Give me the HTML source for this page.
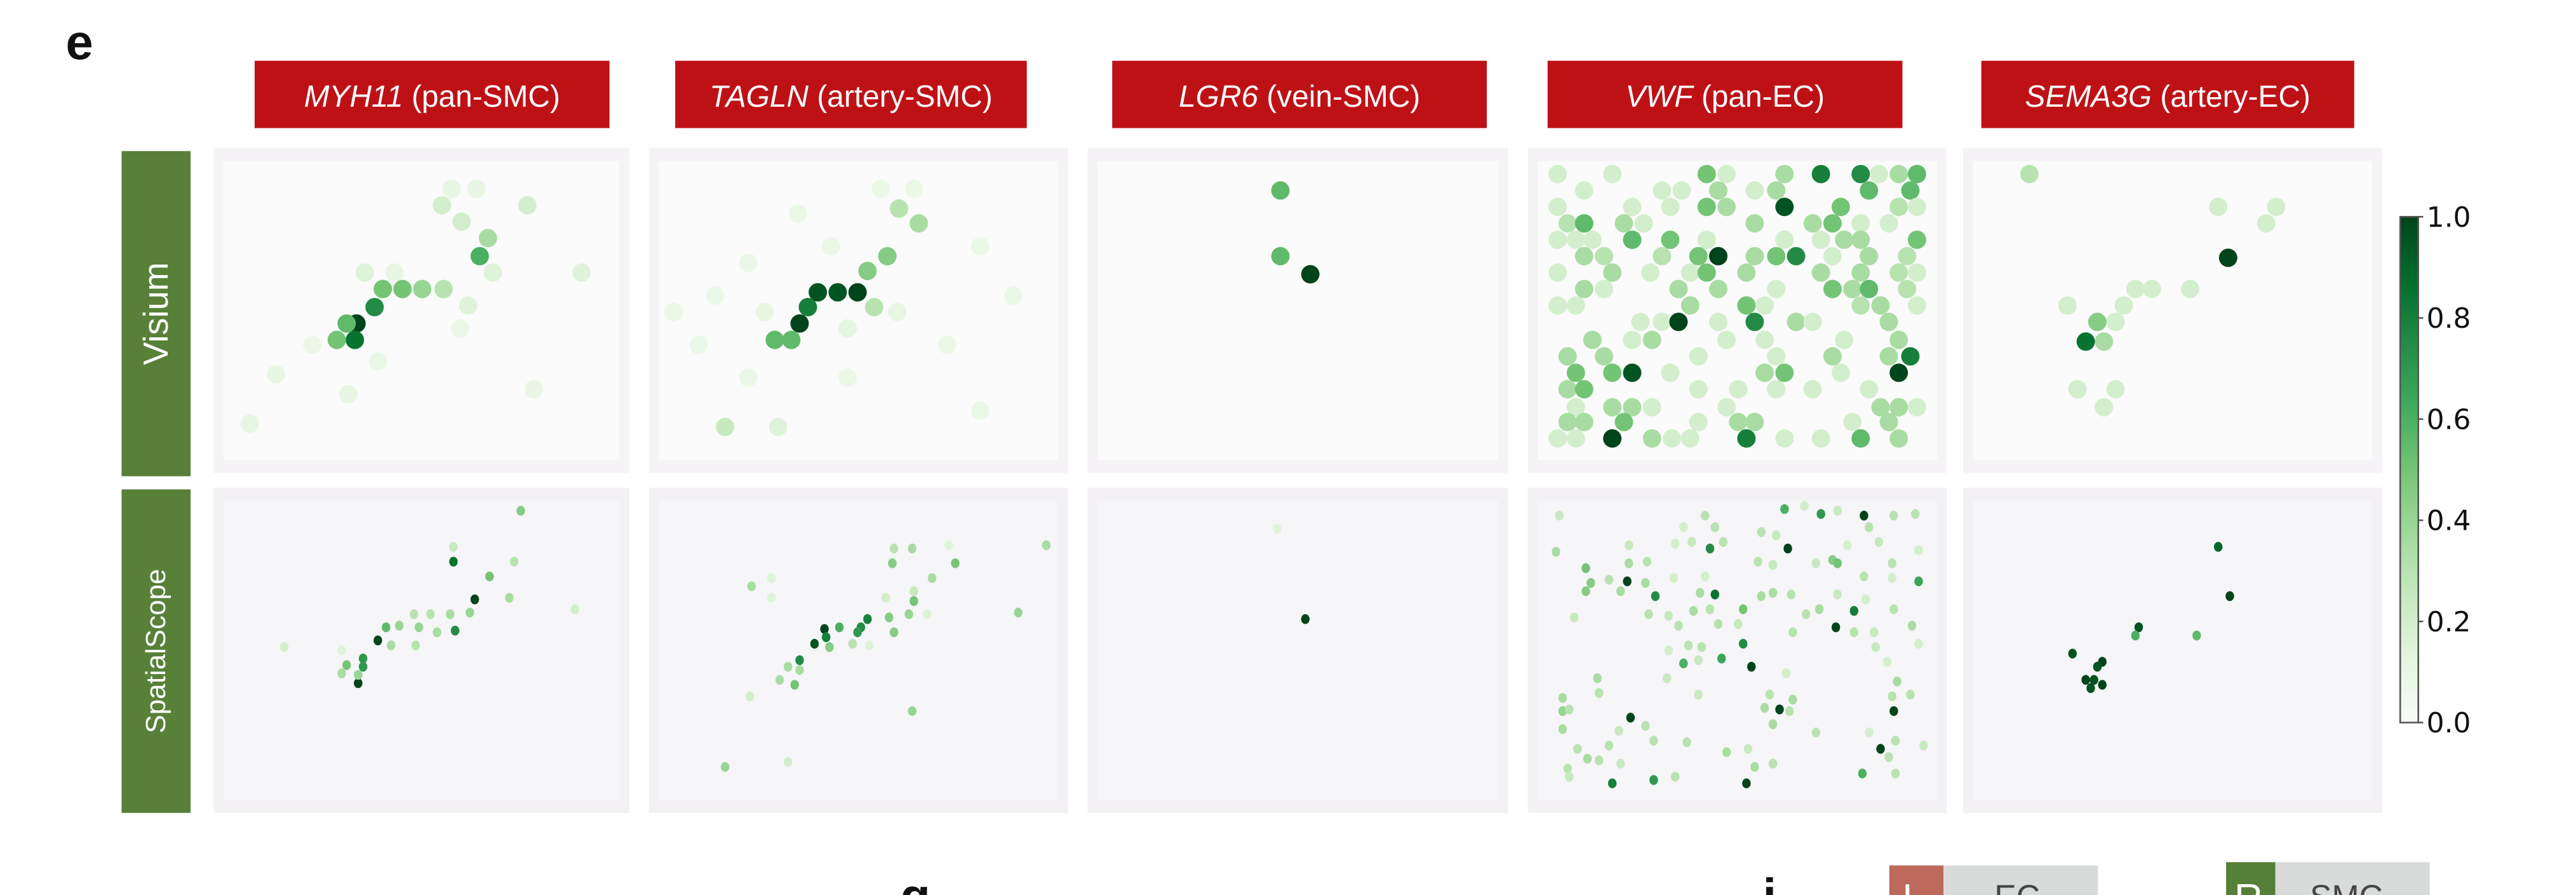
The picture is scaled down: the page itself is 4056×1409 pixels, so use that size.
<!DOCTYPE html>
<html><head><meta charset="utf-8">
<style>
html,body{margin:0;padding:0;background:#fff;width:4056px;height:1409px;overflow:hidden}
svg{display:block}
text{font-family:"Liberation Sans",Arial,sans-serif}
</style></head>
<body>
<svg id="fig" width="4056" height="1409" viewBox="0 0 1568 545" preserveAspectRatio="none" xmlns="http://www.w3.org/2000/svg">
<text x="40" y="36" font-size="30" font-weight="bold" fill="#111">e</text>
<g id="headers"></g>
<g id="rowlabels"></g>
<g id="panels"></g>
<g id="colorbar"></g>
<g>
  <text x="548" y="556" font-size="30" font-weight="bold" fill="#111">g</text>
  <text x="1073" y="556" font-size="30" font-weight="bold" fill="#111">i</text>
  <rect x="1150" y="527" width="33" height="20" fill="#bd6a5c"/>
  <text x="1158" y="555" font-size="24" fill="#fff">L</text>
  <rect x="1183" y="527" width="94" height="20" fill="#d9dbda"/>
  <text x="1214" y="553" font-size="20" fill="#444">EC</text>
  <rect x="1355" y="525" width="30" height="22" fill="#568037"/>
  <text x="1360" y="555" font-size="24" fill="#fff">R</text>
  <rect x="1385" y="525" width="94" height="22" fill="#d9dbda"/>
  <text x="1406" y="553" font-size="20" fill="#444">SMC</text>
</g>
</svg>
<script>
// ---- data ----
const geneNames = ["MYH11","TAGLN","LGR6","VWF","SEMA3G"];
const geneTypes = ["pan-SMC","artery-SMC","vein-SMC","pan-EC","artery-EC"];
const methods = ["Visium","SpatialScope"];
const cbTicks = [0,0.2,0.4,0.6,0.8,1.0];
const cbTickLabels = ["0.0","0.2","0.4","0.6","0.8","1.0"];
// spot coords: tissue units (x 0-253, y 0-198), value = normalized expression
const visMYH11 = [[87,107,1.0],[86,117,.85],[98,97,.75],[75,117,.5],[81,107,.55],[103,86,.5],[115,86,.5],[127,86,.4],[162,66,.6],[167,55,.35],[139,35,.2],[151,45,.2],[191,35,.2],[224,76,.15],[140,86,.3],[155,96,.15],[82,150,.1],[38,138,.1],[22,168,.1],[195,147,.1],[145,25,.1],[160,25,.1],[92,76,.15],[110,76,.1],[170,76,.15],[60,120,.08],[100,130,.08],[150,110,.08]];
const visTAGLN = [[91,107,1.0],[102,88,.95],[114,88,.95],[126,88,1.0],[96,97,.8],[76,117,.55],[86,117,.55],[132,75,.45],[144,66,.45],[136,97,.3],[151,37,.3],[163,46,.35],[46,170,.25],[78,170,.15],[140,25,.08],[160,25,.08],[60,70,.08],[40,90,.08],[110,60,.08],[200,60,.08],[220,90,.08],[30,120,.08],[180,120,.08],[120,140,.08],[200,160,.08],[60,140,.08],[15,100,.08],[90,40,.08],[70,100,.1],[120,110,.12],[150,100,.1]];
const visLGR6 = [[116,26,.55],[116,66,.55],[134,77,1.0]];
const visVWF = [[18,16,.2],[51,16,.2],[108,16,.5],[120,16,.2],[155,16,.35],[177,16,.8],[201,16,.75],[212,16,.2],[224,16,.35],[235,16,.55],
[34,26,.2],[81,26,.2],[93,26,.2],[115,26,.35],[137,26,.2],[150,26,.35],[206,26,.55],[231,26,.55],
[18,36,.2],[63,36,.2],[86,36,.2],[108,36,.5],[120,36,.35],[155,36,.95],[189,36,.5],[224,36,.3],[235,36,.2],
[24,46,.3],[34,46,.55],[58,46,.35],[70,46,.2],[137,46,.35],[172,46,.35],[184,46,.5],[201,46,.2],[218,46,.2],
[18,56,.2],[29,56,.2],[39,56,.2],[63,56,.55],[86,56,.5],[108,56,.2],[155,56,.2],[177,56,.2],[191,56,.35],[201,56,.35],[235,56,.5],
[34,66,.35],[46,66,.3],[81,66,.3],[103,66,.5],[115,66,1.0],[137,66,.35],[150,66,.5],[162,66,.75],[184,66,.2],[206,66,.35],[229,66,.3],
[18,76,.2],[51,76,.35],[74,76,.2],[98,76,.2],[108,76,.5],[132,76,.35],[177,76,.35],[201,76,.35],[224,76,.3],[235,76,.2],
[34,86,.35],[46,86,.2],[91,86,.35],[115,86,.35],[150,86,.2],[184,86,.5],[196,86,.35],[206,86,.55],[229,86,.3],
[18,96,.2],[29,96,.2],[98,96,.35],[132,96,.5],[143,96,.2],[201,96,.3],[213,96,.35],[235,96,.2],
[68,106,.2],[81,106,.2],[91,106,1.0],[115,106,.2],[137,106,.75],[162,106,.35],[172,106,.2],[218,106,.35],
[39,117,.35],[63,117,.2],[75,117,.35],[120,117,.2],[143,117,.2],[191,117,.2],[224,117,.35],
[24,127,.35],[46,127,.35],[103,127,.2],[150,127,.2],[184,127,.35],[218,127,.35],[231,127,.8],
[29,137,.5],[51,137,.5],[63,137,.95],[86,137,.2],[143,137,.35],[155,137,.5],[189,137,.2],[224,137,1.0],
[24,147,.35],[34,147,.5],[103,147,.2],[127,147,.2],[150,147,.2],[172,147,.2],[206,147,.2],
[29,158,.2],[51,158,.35],[63,158,.35],[75,158,.2],[120,158,.2],[213,158,.35],[224,158,.35],[235,158,.2],
[24,167,.35],[34,167,.35],[58,167,.5],[103,167,.2],[127,167,.35],[137,167,.35],[196,167,.2],[218,167,.35],
[18,177,.2],[29,177,.2],[51,177,1.0],[75,177,.35],[87,177,.2],[98,177,.2],[132,177,.8],[155,177,.2],[177,177,.2],[201,177,.55],[224,177,.35]];
const visSEMA3G = [[40,16,.3],[154,36,.2],[189,36,.2],[183,46,.2],[160,67,1.0],[104,86,.2],[114,86,.2],[137,86,.2],[97,96,.2],[63,96,.2],[92,106,.2],[81,106,.45],[74,118,.85],[85,118,.35],[69,147,.2],[92,147,.2],[85,158,.2]];
const ssMYH11 = [[187,14,.45],[146,36,.25],[146,45,.85],[183,45,.3],[168,54,.5],[159,68,1.0],[180,67,.35],[156,76,.4],[144,77,.35],[132,77,.3],[122,77,.3],[220,74,.2],[125,85,.4],[113,84,.4],[105,85,.55],[147,87,.75],[136,88,.35],[100,93,1.0],[108,96,.35],[123,96,.3],[43,97,.2],[78,99,.15],[91,104,.7],[81,108,.5],[91,109,.7],[78,113,.35],[88,119,1.0],[88,114,.4]];
const ssTAGLN = [[240,35,.35],[148,37,.3],[159,37,.35],[181,35,.15],[147,46,.45],[185,46,.5],[171,55,.35],[74,55,.15],[62,60,.35],[74,67,.15],[143,67,.2],[160,69,.5],[160,63,.25],[223,76,.4],[157,77,.4],[145,79,.45],[132,80,.8],[168,77,.15],[106,86,1.0],[115,85,.6],[128,85,.75],[126,88,.7],[148,88,.45],[107,91,.8],[100,95,.95],[109,97,.45],[123,95,.3],[133,96,.15],[91,105,.75],[84,109,.35],[91,111,.35],[79,117,.35],[88,120,.5],[61,127,.2],[159,136,.4],[46,170,.4],[84,167,.2]];
const ssLGR6 = [[114,25,.15],[131,80,1.0]];
const ssVWF = [[19,17,.25],[107,17,.3],[113,24,.3],[155,13,.6],[167,11,.2],[177,16,.7],[187,14,.25],[203,17,1.0],[221,17,.3],[234,16,.3],[206,24,.3],[94,24,.2],[141,27,.3],[150,29,.25],[61,35,.25],[99,33,.25],[118,33,.3],[89,34,.2],[212,33,.25],[193,35,.2],[236,38,.2],[17,39,.35],[110,37,.75],[157,37,1.0],[61,46,.35],[72,45,.3],[139,45,.3],[148,47,.25],[174,46,.25],[184,44,.45],[187,46,.5],[220,46,.3],[35,49,.5],[60,57,1.0],[49,56,.3],[38,58,.45],[71,58,.35],[35,63,.45],[56,63,.35],[88,55,.2],[107,54,.2],[203,54,.3],[220,55,.2],[236,57,.65],[77,66,.75],[113,65,.85],[104,64,.35],[141,66,.35],[148,64,.35],[159,65,.3],[187,65,.25],[204,68,.2],[130,74,.5],[100,75,.35],[110,74,.3],[73,77,.3],[85,78,.25],[168,77,.3],[176,74,.35],[197,75,.8],[221,74,.3],[28,79,.25],[91,84,.3],[115,83,.3],[127,83,.25],[186,85,1.0],[160,88,.3],[197,88,.3],[209,88,.25],[232,84,.35],[130,95,.75],[97,96,.3],[105,97,.3],[85,99,.2],[210,97,.25],[236,95,.2],[117,104,.65],[94,107,.6],[103,105,.25],[135,109,1.0],[217,106,.2],[156,113,.2],[42,116,.35],[84,116,.25],[223,118,.35],[43,125,.3],[103,126,.25],[146,126,.3],[160,129,.35],[21,128,.35],[220,127,.3],[231,126,.3],[21,136,.4],[25,135,.3],[143,134,.35],[152,135,1.0],[158,136,.3],[221,136,1.0],[62,140,1.0],[71,145,.3],[148,144,.35],[21,147,.35],[55,148,.25],[174,149,.3],[206,149,.2],[76,154,.3],[96,155,.3],[49,157,.3],[222,154,.3],[239,157,.25],[30,159,.3],[120,161,.35],[133,159,.25],[213,159,1.0],[218,164,.3],[36,165,.35],[43,166,.3],[56,168,.25],[137,170,.35],[148,168,.3],[24,171,.3],[25,176,.25],[51,180,.8],[76,178,.7],[89,176,.3],[132,180,1.0],[202,174,.6],[222,174,.3]];
const ssSEMA3G = [[154,36,.9],[161,66,1.0],[106,85,.95],[104,90,.6],[141,90,.55],[66,101,.95],[84,106,1.0],[81,109,.95],[74,117,1.0],[79,117,.95],[84,120,1.0],[77,122,.95]];

const panelData = [
  [visMYH11, visTAGLN, visLGR6, visVWF, visSEMA3G],
  [ssMYH11, ssTAGLN, ssLGR6, ssVWF, ssSEMA3G]
];

// ---- layout ----
const NS="http://www.w3.org/2000/svg";
const colX=[130,395,662,930,1195], colW=[253,255,256,255,255];
const rowY=[90,297], rowH=[198,198];
const hdrX=[155,411,677,942,1206], hdrW=[216,214,228,216,227];
const TW=253, TH=198;
function mk(tag,attrs,parent){const e=document.createElementNS(NS,tag);for(const k in attrs)e.setAttribute(k,attrs[k]);parent.appendChild(e);return e;}
const stops=[[0,[247,252,245]],[0.125,[229,245,224]],[0.25,[199,233,192]],[0.375,[161,217,155]],[0.5,[116,196,118]],[0.625,[65,171,93]],[0.75,[35,139,69]],[0.875,[0,109,44]],[1,[0,68,27]]];
function cmap(v){v=Math.max(0,Math.min(1,v));for(let i=1;i<stops.length;i++){if(v<=stops[i][0]){const a=stops[i-1],b=stops[i];const t=(v-a[0])/(b[0]-a[0]);const c=a[1].map((x,j)=>Math.round(x+(b[1][j]-x)*t));return `rgb(${c.join(',')})`;}}return 'rgb(0,68,27)';}

// headers
const H=document.getElementById('headers');
geneNames.forEach((g,i)=>{
  const r=mk('rect',{x:hdrX[i],y:37,width:hdrW[i],height:41,fill:'#be1116'},H);
  
  
  const t=mk('text',{x:hdrX[i]+hdrW[i]/2,y:65,'font-size':18.5,fill:'#fff','text-anchor':'middle'},H);
  
  
  const ts=mk('tspan',{'font-style':'italic'},t); ts.textContent=g;
  const ts2=mk('tspan',{},t); ts2.textContent=' ('+geneTypes[i]+')';
});
// row labels
const RL=document.getElementById('rowlabels');
methods.forEach((m,i)=>{
  const y0=i===0?92:298, h=i===0?198:197;
  const r=mk('rect',{x:74,y:y0,width:42,height:h,fill:'#588039'},RL);
  
  
  const cx=95, cy=y0+h/2;
  const t=mk('text',{x:cx,y:cy,'font-size':i===0?21:17,fill:'#fff','text-anchor':'middle','dominant-baseline':'central',transform:`rotate(-90 ${cx} ${cy})`},RL);
  
  
  t.textContent=m;
});
// panels
const P=document.getElementById('panels');
panelData.forEach((row,ri)=>{
  row.forEach((pts,ci)=>{
    const g=mk('g',{},P);
    
    
    const px=colX[ci], py=rowY[ri], pw=colW[ci], ph=rowH[ri];
    const bg=mk('rect',{x:px,y:py,width:pw,height:ph,fill:ri===0?'#f5f3f6':'#f3f1f4'},g);
    
    
    const inn=mk('rect',{x:px+6,y:py+8,width:pw-12,height:ph-16,fill:ri===0?'#fbfbfb':'#f6f5f7'},g);
    
    
    const sx=x=>px+x/TW*pw, sy=y=>py+y/TH*ph;
    const rad=ri===0?5.6:2.6;
    pts.forEach(d=>{
      const c=mk('ellipse',{cx:sx(d[0]),cy:sy(d[1]),rx:rad,ry:ri===0?rad:rad*1.15,fill:cmap(d[2])},g);
      
      
    });
  });
});
// colorbar
const CB=document.getElementById('colorbar');
const cbX=1461, cbW=11, cbTop=132, cbBot=440;
const defs=mk('defs',{},CB);
const lg=mk('linearGradient',{id:'cbg',x1:0,y1:1,x2:0,y2:0},defs);
stops.forEach(s=>mk('stop',{offset:s[0],'stop-color':cmap(s[0])},lg));
const cbr=mk('rect',{x:cbX,y:cbTop,width:cbW,height:cbBot-cbTop,fill:'url(#cbg)',stroke:'#555','stroke-width':1},CB);


const cy=v=>cbBot-(cbBot-cbTop)*v;
cbTicks.forEach((v,i)=>{
  const tk=mk('line',{x1:cbX+cbW,x2:cbX+cbW+3,y1:cy(v),y2:cy(v),stroke:'#555','stroke-width':1},CB);
  
  
  const t=mk('text',{x:cbX+cbW+5,y:cy(v)+6,'font-size':17,fill:'#111',font_family:'DejaVu Sans'},CB);
  
  
  t.style.fontFamily='"DejaVu Sans",sans-serif';
  t.textContent=cbTickLabels[i];
});
</script>
</body></html>
